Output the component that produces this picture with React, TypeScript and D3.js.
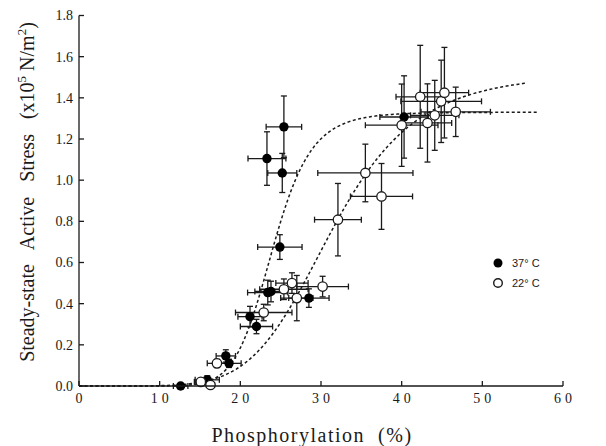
import React from "react";
import * as d3 from "d3";

// 37 °C (filled)
const warmX = [12.6, 15.9, 18.2, 18.6, 21.2, 22.0, 23.4, 23.8, 28.5, 24.9, 25.2, 23.3, 25.4, 40.3];
const warmY = [0.0, 0.03, 0.146, 0.11, 0.337, 0.289, 0.454, 0.459, 0.427, 0.675, 1.035, 1.105, 1.259, 1.307];
const warmXErr = [0.9, 1.5, 1.2, 1.5, 1.5, 2.0, 2.5, 2.0, 2.5, 2.75, 1.8, 2.35, 2.2, 3.0];
const warmYErr = [0, 0.02, 0.03, 0.02, 0.05, 0.035, 0.06, 0.05, 0.045, 0.06, 0.095, 0.13, 0.15, 0.2];

// 22 °C (open)
const coldX = [16.3, 15.1, 17.1, 22.9, 25.4, 26.4, 27.0, 30.2, 32.1, 35.5, 37.5, 40.0, 43.2, 44.1, 44.9, 46.7, 42.3, 45.3];
const coldY = [0.005, 0.02, 0.11, 0.357, 0.47, 0.5, 0.427, 0.483, 0.808, 1.035, 0.921, 1.267, 1.278, 1.315, 1.383, 1.332, 1.405, 1.425];
const coldXErr = [0.5, 0.8, 1.2, 3.5, 3.0, 2.0, 2.0, 3.2, 2.9, 5.9, 3.85, 4.5, 3.0, 3.0, 5.0, 4.3, 3.0, 3.0];
const coldYErr = [0, 0, 0.02, 0.04, 0.05, 0.05, 0.11, 0.05, 0.176, 0.14, 0.16, 0.2, 0.19, 0.17, 0.2, 0.12, 0.25, 0.22];

// Hill fit parameters
const warmFit = { max: 1.33, k: 24, n: 10, end: 57 };
const coldFit = { max: 1.52, k: 31.4, n: 6, end: 55.5 };

const xTicks = [0, 10, 20, 30, 40, 50, 60];
const yTicks = [0, 0.2, 0.4, 0.6, 0.8, 1.0, 1.2, 1.4, 1.6, 1.8];

const W = 606;
const H = 446;

export default function App() {
  const x = d3.scaleLinear().domain([0, 60]).range([79, 563]);
  const y = d3.scaleLinear().domain([0, 1.8]).range([386, 15.5]);

  const hill = (p: { max: number; k: number; n: number; end: number }) => {
    const pts: [number, number][] = [];
    for (let v = 0; v <= p.end + 1e-9; v += 0.25) {
      const r = Math.pow(v / p.k, p.n);
      pts.push([v, (p.max * r) / (1 + r)]);
    }
    return d3
      .line<[number, number]>()
      .x((d) => x(d[0]))
      .y((d) => y(d[1]))(pts) as string;
  };

  const serif = "Liberation Serif";
  const sans = "Liberation Sans";
  const ink = "#1a1a1a";
  const cap = 3;

  const errorBars = (xs: number[], ys: number[], xe: number[], ye: number[], key: string) =>
    xs.map((xv, i) => {
      const cx = x(xv);
      const cy = y(ys[i]);
      const els: React.ReactNode[] = [];
      if (xe[i] > 0) {
        const x1 = x(xv - xe[i]);
        const x2 = x(xv + xe[i]);
        els.push(<line key="h" x1={x1} x2={x2} y1={cy} y2={cy} />);
        els.push(<line key="hc1" x1={x1} x2={x1} y1={cy - cap} y2={cy + cap} />);
        els.push(<line key="hc2" x1={x2} x2={x2} y1={cy - cap} y2={cy + cap} />);
      }
      if (ye[i] > 0) {
        const y1 = y(ys[i] - ye[i]);
        const y2 = y(ys[i] + ye[i]);
        els.push(<line key="v" x1={cx} x2={cx} y1={y1} y2={y2} />);
        els.push(<line key="vc1" x1={cx - cap} x2={cx + cap} y1={y1} y2={y1} />);
        els.push(<line key="vc2" x1={cx - cap} x2={cx + cap} y1={y2} y2={y2} />);
      }
      return <g key={key + i}>{els}</g>;
    });

  return (
    <svg
      width={W}
      height={H}
      style={{ position: "absolute", left: 0, top: 0, background: "#fff" }}
    >
      {/* curves */}
      <path d={hill(warmFit)} fill="none" stroke={ink} strokeWidth={1.5} strokeDasharray="3,2.5" />
      <path d={hill(coldFit)} fill="none" stroke={ink} strokeWidth={1.5} strokeDasharray="3,2.5" />

      {/* error bars */}
      <g stroke={ink} strokeWidth={1.3}>
        {errorBars(warmX, warmY, warmXErr, warmYErr, "w")}
        {errorBars(coldX, coldY, coldXErr, coldYErr, "c")}
      </g>

      {/* points */}
      {warmX.map((xv, i) => (
        <circle key={"wp" + i} cx={x(xv)} cy={y(warmY[i])} r={4.7} fill="#000" />
      ))}
      {coldX.map((xv, i) => (
        <circle key={"cp" + i} cx={x(xv)} cy={y(coldY[i])} r={4.7} fill="#fff" stroke={ink} strokeWidth={1.3} />
      ))}

      {/* axes */}
      <g stroke={ink} strokeWidth={1.3} fill="none">
        <line x1={x(0)} x2={x(0)} y1={y(0)} y2={y(1.8)} />
        <line x1={x(0)} x2={x(60)} y1={y(0)} y2={y(0)} />
        {yTicks.map((t) => (
          <line key={"yt" + t} x1={x(0)} x2={x(0) + 5} y1={y(t)} y2={y(t)} />
        ))}
        {xTicks.map((t) => (
          <line key={"xt" + t} x1={x(t)} x2={x(t)} y1={y(0)} y2={y(0) - 5} />
        ))}
      </g>
      <g fontFamily={serif} fontSize={14} fill={ink}>
        {yTicks.map((t) => (
          <text key={"yl" + t} x={73} y={y(t)} dy="0.35em" textAnchor="end">
            {t.toFixed(1)}
          </text>
        ))}
        {xTicks.map((t) => (
          <text key={"xl" + t} x={x(t) + 2} y={403} textAnchor="middle" letterSpacing={4}>
            {String(t)}
          </text>
        ))}
      </g>

      {/* axis titles */}
      <text
        x={312}
        y={442}
        textAnchor="middle"
        fontFamily={serif}
        fontSize={20}
        letterSpacing={1.5}
        fill={ink}
        style={{ whiteSpace: "pre" }}
      >
        {"Phosphorylation  (%)"}
      </text>
      <text
        transform="translate(34,192) rotate(-90)"
        textAnchor="middle"
        fontFamily={serif}
        fontSize={20}
        fill={ink}
        style={{ whiteSpace: "pre" }}
      >
        {"Steady-state   Active   Stress   (x10"}
        <tspan dy={-8} fontSize={13}>5</tspan>
        <tspan dy={8}>{" N/m"}</tspan>
        <tspan dy={-8} fontSize={13}>2</tspan>
        <tspan dy={8}>)</tspan>
      </text>

      {/* legend */}
      <circle cx={498} cy={263} r={4.5} fill="#000" />
      <circle cx={498} cy={283} r={4.3} fill="#fff" stroke={ink} strokeWidth={1.4} />
      <g fontFamily={sans} fontSize={11} fill={ink}>
        <text x={512} y={267}>37° C</text>
        <text x={512} y={287}>22° C</text>
      </g>
    </svg>
  );
}
